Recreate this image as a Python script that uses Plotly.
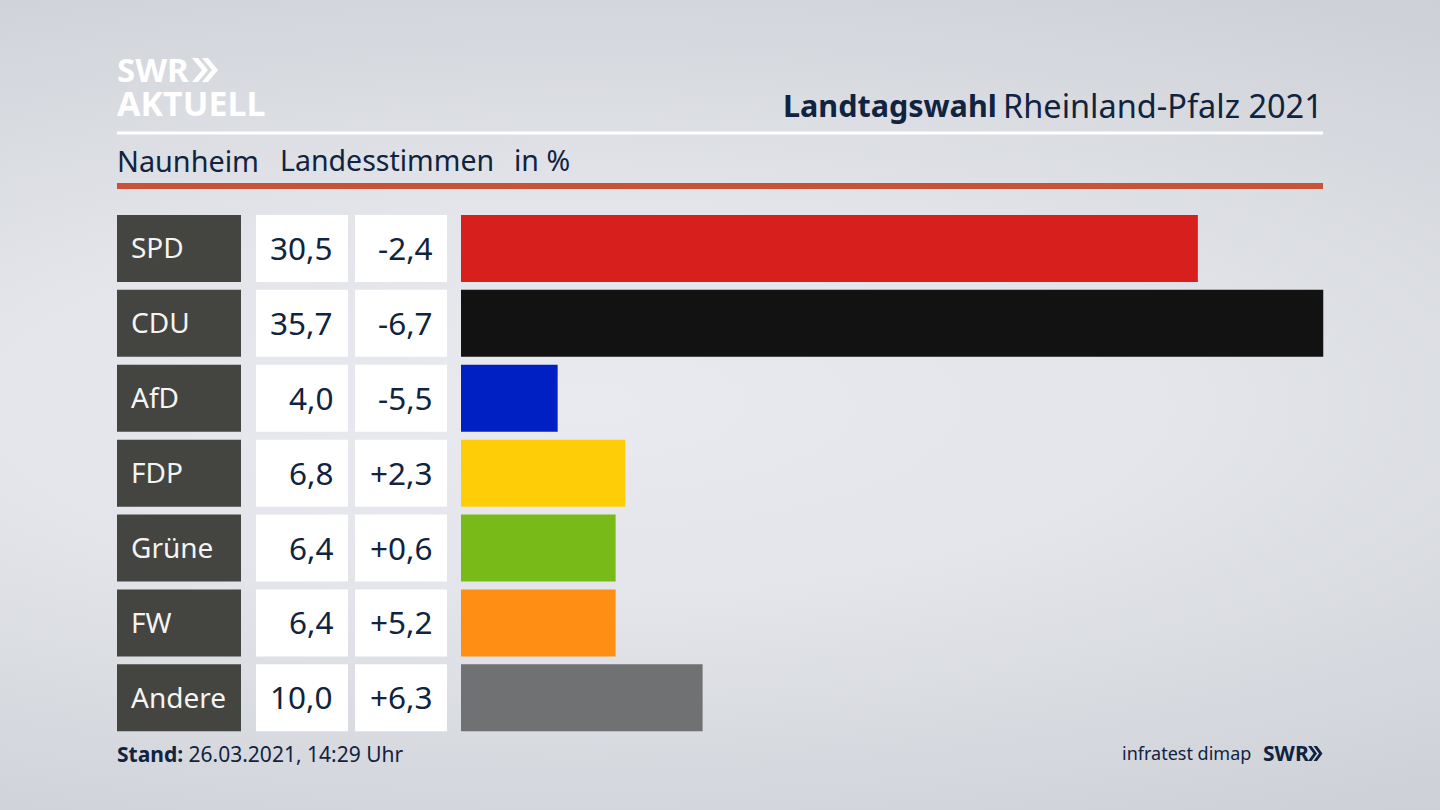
import plotly.graph_objects as go

W, H = 1440, 810

parties = ['SPD', 'CDU', 'AfD', 'FDP', 'Grüne', 'FW', 'Andere']
votes = [30.5, 35.7, 4.0, 6.8, 6.4, 6.4, 10.0]
votes_text = ['30,5', '35,7', '4,0', '6,8', '6,4', '6,4', '10,0']
change_text = ['-2,4', '-6,7', '-5,5', '+2,3', '+0,6', '+5,2', '+6,3']
colors = ['#d71f1d', '#121212', '#0020c4', '#ffcc08', '#78bb18', '#ff8f14', '#707173']

NAVY = '#10233f'
FONT = 'Noto Sans'


def px_x(x):
    return x / W


def px_y(y):
    return 1 - y / H


def chevrons(x, top, bottom, arm, thick, color):
    # the two arrows of the SWR logo, as filled paths in paper coordinates
    out = []
    mid = (top + bottom) / 2
    for x0 in (x, x + arm):
        pts = [(x0, top), (x0 + thick, top), (x0 + thick + arm, mid), (x0 + thick, bottom), (x0, bottom), (x0 + arm, mid)]
        path = 'M ' + ' L '.join(f'{px_x(a):.5f},{px_y(b):.5f}' for a, b in pts) + ' Z'
        out.append(dict(type='path', xref='paper', yref='paper', path=path, fillcolor=color, line_width=0))
    return out


fig = go.Figure()

# the three table columns are bars too, each on its own x axis
fig.add_bar(x=[1] * 7, y=parties, orientation='h', xaxis='x2', marker_color='#444441', marker_line_width=0)
fig.add_bar(x=[1] * 7, y=parties, orientation='h', xaxis='x3', marker_color='white', marker_line_width=0)
fig.add_bar(x=[1] * 7, y=parties, orientation='h', xaxis='x4', marker_color='white', marker_line_width=0)
fig.add_bar(x=votes, y=parties, orientation='h', xaxis='x', marker_color=colors, marker_line_width=0)

annotations = []


def label(x, y, text, size, color=NAVY, anchor='left', family=FONT, height=None):
    annotations.append(dict(xref='paper', yref='paper', x=px_x(x), y=px_y(y), text=text,
                            showarrow=False, xanchor=anchor, yanchor='middle', height=height,
                            font=dict(family=family, size=size, color=color)))


for party, v, c in zip(parties, votes_text, change_text):
    annotations.append(dict(xref='paper', yref='y', x=px_x(129), y=party, yshift=1, text=party, showarrow=False,
                            xanchor='left', yanchor='middle', font=dict(family=FONT, size=28, color='#f4f4f2')))
    annotations.append(dict(xref='paper', yref='y', x=px_x(335), y=party, yshift=1, text=v, showarrow=False,
                            xanchor='right', yanchor='middle', font=dict(family=FONT, size=31.5, color=NAVY)))
    annotations.append(dict(xref='paper', yref='y', x=px_x(435), y=party, yshift=1, text=c, showarrow=False,
                            xanchor='right', yanchor='middle', font=dict(family=FONT, size=31.5, color=NAVY)))

# header and footer
label(999, 105, '<b>Landtagswahl</b>', 30.5, anchor='right')
label(1325, 105, 'Rheinland-Pfalz 2021', 32.5, anchor='right')
label(115, 160, 'Naunheim', 28.8)
label(278, 160, 'Landesstimmen', 28.5)
label(512, 160, 'in %', 28.5)
label(115, 754, '<b>Stand:</b> 26.03.2021, 14:29 Uhr', 21)
label(1253, 753, 'infratest dimap', 18, anchor='right')
label(1261, 753, '<b>SWR</b>', 21)
label(115, 69, '<b>SWR</b>', 33, color='white', height=30)
label(115, 103, '<b>AKTUELL</b>', 34, color='white', height=30)

shapes = [
    dict(type='rect', xref='paper', yref='paper', x0=px_x(117), x1=px_x(1323), y0=px_y(134.5), y1=px_y(131.5),
         fillcolor='white', line_width=0),
    dict(type='rect', xref='paper', yref='paper', x0=px_x(117), x1=px_x(1323), y0=px_y(189), y1=px_y(183),
         fillcolor='#c9533a', line_width=0),
]
shapes += chevrons(192, 58, 82, 10, 6, 'white')
shapes += chevrons(1308, 746, 761, 5.5, 3.5, NAVY)

fig.update_layout(
    width=W,
    height=H,
    margin=dict(l=0, r=0, t=0, b=0),
    paper_bgcolor='rgba(0,0,0,0)',
    plot_bgcolor='rgba(0,0,0,0)',
    showlegend=False,
    bargap=0.105,
    annotations=annotations,
    shapes=shapes,
    xaxis=dict(domain=[px_x(461), px_x(1323.5)], range=[0, 35.7], visible=False),
    xaxis2=dict(domain=[px_x(117), px_x(241)], range=[0, 1], visible=False, anchor='y'),
    xaxis3=dict(domain=[px_x(256), px_x(348)], range=[0, 1], visible=False, anchor='y'),
    xaxis4=dict(domain=[px_x(355), px_x(447)], range=[0, 1], visible=False, anchor='y'),
    yaxis=dict(domain=[px_y(735.3), px_y(211)], autorange='reversed', visible=False, type='category',
               categoryorder='array', categoryarray=parties),
)

# page background gradient sits behind the transparent figure
background = ("document.body.style.margin='0';"
              "document.body.style.background="
              "'radial-gradient(ellipse 105% 60% at 40% 50%, #e9eaef 0%, #e3e5ea 40%, #cdd0d6 100%)';"
              "document.body.style.height='810px';document.body.style.overflow='hidden';")

fig.write_html("out.html", post_script=background, config=dict(displayModeBar=False))
